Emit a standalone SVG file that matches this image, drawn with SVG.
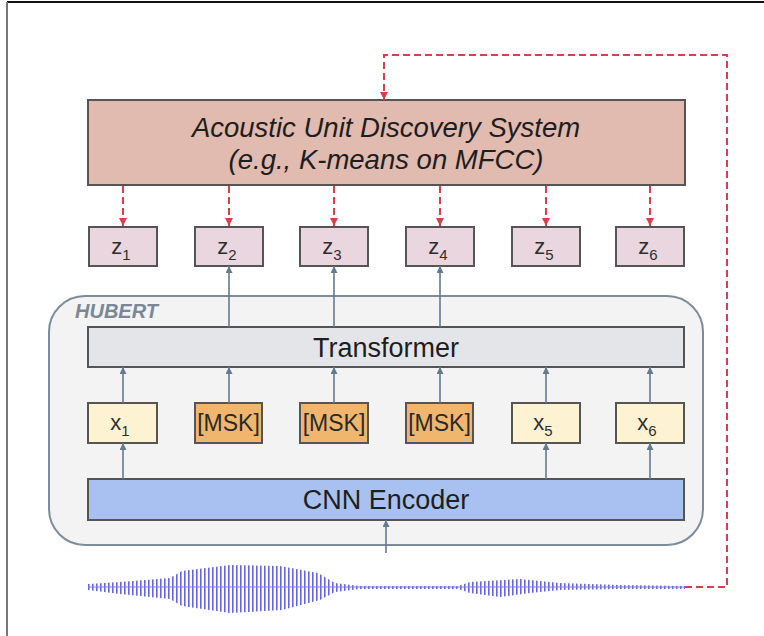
<svg xmlns="http://www.w3.org/2000/svg" width="764" height="636" viewBox="0 0 764 636">
  <defs>
    <style>
      .box { stroke: #555; stroke-width: 2; }
      .acoustic { fill: #e1bab0; }
      .zbox { fill: #ead6de; }
      .xbox { fill: #fdf3d3; }
      .msk { fill: #f0b66e; }
      .tf { fill: #e4e5e8; }
      .cnn { fill: #a9c1f1; }
      .lbl { font-family: "Liberation Sans", Arial, sans-serif; fill: #1e1e1e; text-anchor: middle; }
      .big { font-size: 27px; }
      .ital { font-size: 27.5px; font-style: italic; }
      .tok { font-size: 22px; fill: #2e2e2e; }
      .msktxt { font-size: 23px; fill: #2a2a2a; }
      .sub { font-size: 15px; }
      .flow { stroke: #647a8e; stroke-width: 1.6; fill: none; marker-end: url(#headGray); }
      .feedback { stroke: #d6404c; stroke-width: 2; fill: none; stroke-dasharray: 7 4; }
      .fbArrow { marker-end: url(#headRed); }
    </style>
    <marker id="headGray" viewBox="0 0 10 10" refX="10" refY="5" markerWidth="7" markerHeight="7" markerUnits="userSpaceOnUse" orient="auto">
      <path d="M0,0 L10,5 L0,10 z" fill="#647a8e"/>
    </marker>
    <marker id="headRed" viewBox="0 0 10 10" refX="10" refY="5" markerWidth="8" markerHeight="8" markerUnits="userSpaceOnUse" orient="auto">
      <path d="M0,0 L10,5 L0,10 z" fill="#d6404c"/>
    </marker>
    <!-- dense vertical strokes used to render the speech waveform -->
    <pattern id="wavePat" x="0" y="0" width="4" height="10" patternUnits="userSpaceOnUse">
      <rect x="0" y="0" width="1.6" height="10" fill="#4a4ae0"/>
    </pattern>
    <clipPath id="waveEnv">
      <path d="M88,584 L120,582 L170,578 L182,571 L230,565 L280,566 L318,573 L335,583 L360,586 L458,586 L470,582 L520,579 L560,583 L620,585 L685,586
               L685,589 L620,589 L560,590 L530,593 L500,597 L470,593 L458,589 L360,589 L335,592 L320,600 L282,610 L230,613 L182,606 L170,599 L120,594 L88,590 Z"/>
    </clipPath>
    <filter id="soft" x="-5%" y="-50%" width="110%" height="200%">
      <feGaussianBlur stdDeviation="0.45"/>
    </filter>
  </defs>

  <!-- page frame -->
  <line x1="7" y1="2" x2="764" y2="2" stroke="#111" stroke-width="2"/>
  <line x1="7" y1="2" x2="7" y2="636" stroke="#777" stroke-width="2"/>

  <!-- HuBERT container -->
  <g id="hubert">
    <rect x="49" y="296" width="654" height="249" rx="36" ry="36" fill="#f3f3f3" stroke="#7d8c9b" stroke-width="2"/>
    <text x="75" y="318" font-family="'Liberation Sans', Arial, sans-serif" font-size="20" font-style="italic" font-weight="bold" fill="#7a8797">HUBERT</text>
  </g>

  <g id="acoustic-unit-discovery">
    <rect class="box acoustic" x="88" y="100" width="597" height="85"/>
    <text class="lbl ital" x="386" y="137">Acoustic Unit Discovery System</text>
    <text class="lbl ital" x="386" y="169">(e.g., K-means on MFCC)</text>
  </g>

  <!-- discovered unit targets -->
  <g id="z1"><rect class="box zbox" x="89" y="227" width="68" height="39"/><text class="lbl tok" x="121" y="254">z<tspan class="sub" dy="6">1</tspan></text></g>
  <g id="z2"><rect class="box zbox" x="195" y="227" width="68" height="39"/><text class="lbl tok" x="227" y="254">z<tspan class="sub" dy="6">2</tspan></text></g>
  <g id="z3"><rect class="box zbox" x="300" y="227" width="68" height="39"/><text class="lbl tok" x="332" y="254">z<tspan class="sub" dy="6">3</tspan></text></g>
  <g id="z4"><rect class="box zbox" x="406" y="227" width="68" height="39"/><text class="lbl tok" x="438" y="254">z<tspan class="sub" dy="6">4</tspan></text></g>
  <g id="z5"><rect class="box zbox" x="512" y="227" width="68" height="39"/><text class="lbl tok" x="544" y="254">z<tspan class="sub" dy="6">5</tspan></text></g>
  <g id="z6"><rect class="box zbox" x="616" y="227" width="68" height="39"/><text class="lbl tok" x="648" y="254">z<tspan class="sub" dy="6">6</tspan></text></g>

  <g id="transformer">
    <rect class="box tf" x="88" y="327" width="596" height="40"/>
    <text class="lbl big" x="386" y="357">Transformer</text>
  </g>

  <!-- frame features and masked positions -->
  <g id="x1"><rect class="box xbox" x="88" y="403" width="69" height="40"/><text class="lbl tok" x="120" y="430">x<tspan class="sub" dy="6">1</tspan></text></g>
  <g id="msk2"><rect class="box msk" x="195" y="403" width="67" height="40"/><text class="lbl msktxt" x="228.5" y="431">[MSK]</text></g>
  <g id="msk3"><rect class="box msk" x="300" y="403" width="68" height="40"/><text class="lbl msktxt" x="334" y="431">[MSK]</text></g>
  <g id="msk4"><rect class="box msk" x="406" y="403" width="67" height="40"/><text class="lbl msktxt" x="439.5" y="431">[MSK]</text></g>
  <g id="x5"><rect class="box xbox" x="512" y="403" width="68" height="40"/><text class="lbl tok" x="543" y="430">x<tspan class="sub" dy="6">5</tspan></text></g>
  <g id="x6"><rect class="box xbox" x="616" y="403" width="68" height="40"/><text class="lbl tok" x="647" y="430">x<tspan class="sub" dy="6">6</tspan></text></g>

  <g id="cnn-encoder">
    <rect class="box cnn" x="88" y="479" width="596" height="41"/>
    <text class="lbl big" x="386" y="509">CNN Encoder</text>
  </g>

  <!-- input speech waveform -->
  <g id="waveform" filter="url(#soft)" opacity="0.85">
    <rect x="88" y="560" width="597" height="56" fill="url(#wavePat)" clip-path="url(#waveEnv)"/>
    <path d="M88,587 L685,587" stroke="#6a6ae8" stroke-width="1.2" fill="none"/>
  </g>

  <g id="connectors">
    <!-- upward data flow -->
    <line class="flow" x1="229" y1="327" x2="229" y2="266"/>
    <line class="flow" x1="334" y1="327" x2="334" y2="266"/>
    <line class="flow" x1="440" y1="327" x2="440" y2="266"/>

    <line class="flow" x1="123" y1="403" x2="123" y2="367"/>
    <line class="flow" x1="229" y1="403" x2="229" y2="367"/>
    <line class="flow" x1="334" y1="403" x2="334" y2="367"/>
    <line class="flow" x1="440" y1="403" x2="440" y2="367"/>
    <line class="flow" x1="546" y1="403" x2="546" y2="367"/>
    <line class="flow" x1="650" y1="403" x2="650" y2="367"/>

    <line class="flow" x1="123" y1="479" x2="123" y2="443"/>
    <line class="flow" x1="546" y1="479" x2="546" y2="443"/>
    <line class="flow" x1="650" y1="479" x2="650" y2="443"/>

    <line class="flow" x1="386" y1="553" x2="386" y2="520"/>

    <!-- clustering feedback path -->
    <path class="feedback fbArrow" d="M685,587 H727 V55 H384 V100"/>
    <line class="feedback fbArrow" x1="123" y1="186" x2="123" y2="226"/>
    <line class="feedback fbArrow" x1="229" y1="186" x2="229" y2="226"/>
    <line class="feedback fbArrow" x1="334" y1="186" x2="334" y2="226"/>
    <line class="feedback fbArrow" x1="440" y1="186" x2="440" y2="226"/>
    <line class="feedback fbArrow" x1="546" y1="186" x2="546" y2="226"/>
    <line class="feedback fbArrow" x1="650" y1="186" x2="650" y2="226"/>
  </g>
</svg>
